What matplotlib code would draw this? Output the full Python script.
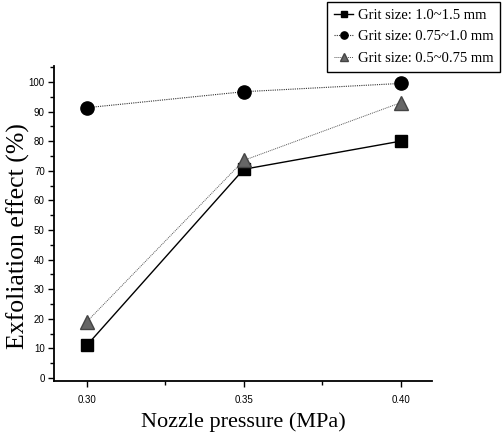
import matplotlib

matplotlib.use("Agg")

import matplotlib.pyplot as plt
from matplotlib.ticker import MultipleLocator

pressure = [0.30, 0.35, 0.40]
grit_large = [11.0, 70.5, 80.0]
grit_mid = [91.3, 96.7, 99.5]
grit_small = [19.0, 73.5, 93.0]
labels = [
    "Grit size: 1.0~1.5 mm",
    "Grit size: 0.75~1.0 mm",
    "Grit size: 0.5~0.75 mm",
]

fig = plt.figure(figsize=(5.03, 4.34), dpi=100)
ax = fig.add_axes([0.107, 0.123, 0.752, 0.725])

ax.plot(pressure, grit_large, color="black", lw=1.0, marker="s", ms=9,
        label=labels[0])
ax.plot(pressure, grit_mid, color="#333333", lw=0.8, ls=(0, (1, 1)),
        marker="o", ms=9.5, mfc="black", mec="black", label=labels[1])
ax.plot(pressure, grit_small, color="#555555", lw=0.7, ls=(0, (1, 1)),
        marker="^", ms=10, mfc="#666666", mec="#444444", label=labels[2])

ax.set_xlim(0.2895, 0.41)
ax.set_ylim(-0.9, 105.4)
ax.set_xticks(pressure)
ax.set_xticklabels(["0.30", "0.35", "0.40"])
ax.xaxis.set_minor_locator(MultipleLocator(0.025))
ax.yaxis.set_major_locator(MultipleLocator(10))
ax.yaxis.set_minor_locator(MultipleLocator(5))
ax.tick_params(which="both", direction="out", labelsize=7, width=1,
               labelfontfamily="Liberation Sans")
ax.tick_params(which="major", length=4.5, pad=2)
ax.tick_params(axis="x", which="major", pad=6)
ax.tick_params(which="minor", length=3)
for side in ("top", "right"):
    ax.spines[side].set_visible(False)
for side in ("left", "bottom"):
    ax.spines[side].set_linewidth(1.3)

ax.set_xlabel("Nozzle pressure (MPa)", family="Liberation Serif", fontsize=16,
              labelpad=5)
ax.set_ylabel("Exfoliation effect (%)", family="Liberation Serif",
              fontsize=18.5)
ax.yaxis.set_label_coords(-0.062, 0.46)

leg = fig.legend(loc="upper right", bbox_to_anchor=(0.995, 0.996),
                 prop={"family": "Liberation Serif", "size": 10.5},
                 fancybox=False, edgecolor="black", framealpha=1,
                 handlelength=1.3, handletextpad=0.3, borderpad=0.5,
                 labelspacing=0.55, markerscale=0.55, borderaxespad=0)
leg.get_frame().set_linewidth(1.0)

fig.savefig("out.png", dpi=100)
plt.close(fig)
